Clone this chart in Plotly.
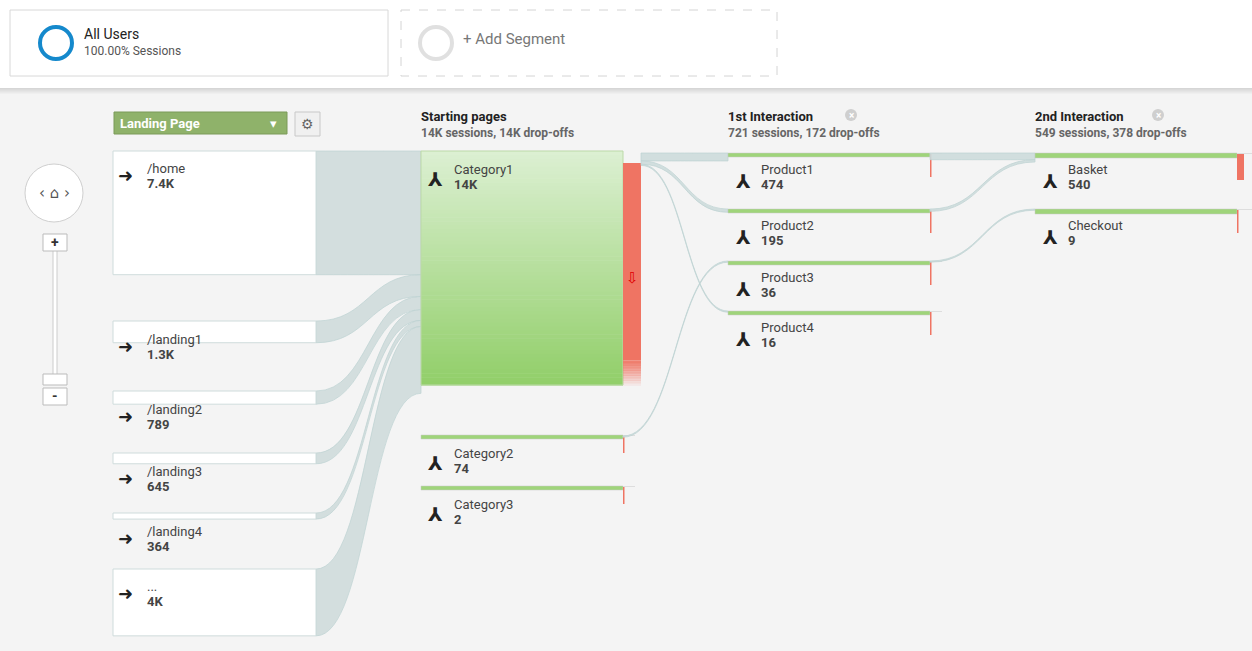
import plotly.graph_objects as go

# ---------------- data ----------------
landing_pages = ["/home", "/landing1", "/landing2", "/landing3", "/landing4", "..."]
landing_sessions = [7400, 1300, 789, 645, 364, 4000]
landing_labels = ["7.4K", "1.3K", "789", "645", "364", "4K"]

start_pages = ["Category1", "Category2", "Category3"]
start_sessions = [14000, 74, 2]
start_labels = ["14K", "74", "2"]
start_dropoffs = [13300, 40, 2]

inter1_pages = ["Product1", "Product2", "Product3", "Product4"]
inter1_sessions = [474, 195, 36, 16]
inter1_dropoffs = [60, 50, 30, 16]

inter2_pages = ["Basket", "Checkout"]
inter2_sessions = [540, 9]
inter2_dropoffs = [370, 8]

links1_src = [0, 0, 1, 0]          # start page index
links1_dst = [0, 1, 2, 3]          # 1st interaction index
links1_val = [474, 195, 36, 16]
links2_src = [0, 1, 2]
links2_dst = [0, 0, 1]
links2_val = [400, 140, 9]

col_titles = ["Starting pages", "1st Interaction", "2nd Interaction"]
col_subs = ["14K sessions, 14K drop-offs", "721 sessions, 172 drop-offs", "549 sessions, 378 drop-offs"]

# ---------------- layout constants ----------------
W, H = 1252, 651
S = 234 / 14000.0  # px per session
FONT = "Roboto"
shapes, ann = [], []

def rect(x0, y0, x1, y1, fill, line="rgba(0,0,0,0)", lw=0, dash=None):
    d = dict(type="rect", x0=x0, y0=y0, x1=x1, y1=y1, xref="x", yref="y",
             fillcolor=fill, line=dict(color=line, width=lw), layer="above")
    if dash:
        d["line"]["dash"] = dash
    shapes.append(d)

def text(x, y, t, size=13, color="#333", bold=False, anchor="left", family=FONT):
    if bold:
        t = "<b>" + t + "</b>"
    if anchor == "left":
        x -= 2
    ann.append(dict(x=x, y=y, xref="x", yref="y", text=t, showarrow=False,
                    xanchor=anchor, yanchor="middle", font=dict(size=size, color=color, family=family)))

def band(x0, a0, b0, x1, a1, b1, color="rgba(200,215,215,0.75)"):
    xm = (x0 + x1) / 2
    p = (f"M {x0},{a0} C {xm},{a0} {xm},{a1} {x1},{a1} L {x1},{b1} "
         f"C {xm},{b1} {xm},{b0} {x0},{b0} Z")
    shapes.append(dict(type="path", path=p, xref="x", yref="y", fillcolor=color,
                       line=dict(color="rgba(190,210,210,0.9)", width=0.8), layer="above"))

# background
rect(0, 88, W, H, "#f4f4f4")
rect(0, 0, W, 88, "#ffffff")
for i in range(6):
    rect(0, 88 + i, W, 89 + i, f"rgba(0,0,0,{0.12 - i*0.02:.2f})")

# segment boxes
shapes.append(dict(type="rect", x0=10, y0=10, x1=388, y1=76, xref="x", yref="y",
                   fillcolor="white", line=dict(color="#d8d8d8", width=1), layer="above"))
shapes.append(dict(type="circle", x0=40, y0=27, x1=72, y1=59, xref="x", yref="y",
                   line=dict(color="#1589cc", width=4), fillcolor="white", layer="above"))
text(84, 34, "All Users", 14, "#222")
text(84, 51, "100.00% Sessions", 12, "#555")
rect(401, 10, 777, 76, "white", "#d4d4d4", 1, "dash")
shapes.append(dict(type="circle", x0=420, y0=27, x1=452, y1=59, xref="x", yref="y",
                   line=dict(color="#e0e0e0", width=4), fillcolor="white", layer="above"))
text(463, 39, "+ Add Segment", 15, "#777")

# zoom control
shapes.append(dict(type="circle", x0=25, y0=164, x1=83, y1=222, xref="x", yref="y",
                   line=dict(color="#cfcfcf", width=1), fillcolor="white", layer="above"))
text(54, 193, "‹ ⌂ ›", 15, "#555", anchor="center", family="DejaVu Sans")
rect(53, 250, 57, 376, "white", "#cccccc", 1)
rect(43, 234, 67, 251, "white", "#bbbbbb", 1)
text(55, 242, "+", 14, "#333", True, "center")
rect(43, 374, 67, 385, "white", "#bbbbbb", 1)
rect(43, 388, 67, 405, "white", "#bbbbbb", 1)
text(55, 396, "-", 14, "#333", True, "center")

# dropdown + gear
rect(114, 112, 287, 134, "#8fb26a", "#7a9a58", 1)
text(120, 123, "Landing Page", 13, "white", True)
text(273, 123, "▾", 13, "white", anchor="center", family="DejaVu Sans")
rect(295, 112, 320, 136, "#f0f0f0", "#c8c8c8", 1)
text(307, 124, "⚙", 14, "#666", anchor="center", family="DejaVu Sans")

# column headers
col_x = [421, 728, 1035]
for i, (t, s) in enumerate(zip(col_titles, col_subs)):
    text(col_x[i], 116, t, 13, "#222", True)
    text(col_x[i], 133, s, 12, "#666", True)
    if i > 0:
        shapes.append(dict(type="circle", x0=col_x[i]+117, y0=109, x1=col_x[i]+129, y1=121,
                           xref="x", yref="y", fillcolor="#cfcfcf", line=dict(width=0), layer="above"))
        text(col_x[i]+123, 115, "×", 10, "white", True, "center")

# ---------------- landing nodes ----------------
land_tops = [151, 321, 391, 453, 513, 569]
LX0, LX1 = 113, 316
cy = 151
for top, v in zip(land_tops, landing_sessions):
    h = v * S
    band(LX1, top, top + h, 421, cy, cy + h)
    cy += h
for top, name, v, lab in zip(land_tops, landing_pages, landing_sessions, landing_labels):
    h = max(v * S, 5)
    rect(LX0, top, LX1, top + h, "white", "#cfdcdc", 1)
    ty = top + 17 if h > 40 else top + 18
    text(118, ty + 7, "➜", 18, "#222", family="DejaVu Sans")
    text(147, ty, name, 13, "#444")
    text(147, ty + 15, lab, 13, "#444", True)

# ---------------- starting pages ----------------
SX0, SX1 = 421, 623
st_tops = [151, 435, 486]
h1 = start_sessions[0] * S
N = 60
for i in range(N):
    f = i / (N - 1)
    r = int(220 + (146 - 220) * f); g = int(240 + (207 - 240) * f); b = int(210 + (106 - 210) * f)
    rect(SX0, 151 + h1 * i / N, SX1, 151 + h1 * (i + 1) / N + 0.5, f"rgb({r},{g},{b})")
shapes.append(dict(type="rect", x0=SX0, y0=151, x1=SX1, y1=151 + h1, xref="x", yref="y",
                   fillcolor="rgba(0,0,0,0)", line=dict(color="#bcd9a8", width=1), layer="above"))
dh = start_dropoffs[0] * S
fade = 25
rect(SX1, 163, SX1 + 18, 163 + dh - fade, "#ef7463")
for i in range(10):
    a = 1 - (i + 1) / 11
    rect(SX1, 163 + dh - fade + i * fade / 10, SX1 + 18, 163 + dh - fade + (i + 1) * fade / 10 + 0.5,
         f"rgba(239,116,99,{a:.2f})")
text(632, 278, "⇩", 15, "#e00000", anchor="center", family="DejaVu Sans")

for k in range(3):
    top = st_tops[k]
    if k > 0:
        rect(SX0, top, SX1, top + 4, "#9fd47a", "#c8c8c8", 0.5)
        rect(SX1, top, SX1 + 1.5, top + 18, "#ef7463")
        rect(SX1, top, SX1 + 12, top + 1, "#dddddd")
        ty = top + 18
    else:
        ty = 169
    text(428, ty + 10, "⅄", 19, "#222", True, family="DejaVu Sans")
    text(454, ty, start_pages[k], 13, "#444")
    text(454, ty + 15, start_labels[k], 13, "#444", True)

# ---------------- 1st interaction ----------------
I1X0, I1X1 = 728, 930
i1_tops = [153, 209, 261, 311]
srcy = {0: 153, 1: 436, 2: 487}
for s_, d_, v in zip(links1_src, links1_dst, links1_val):
    w = max(v * S, 1.2)
    a0 = srcy[s_]; srcy[s_] += w
    band(SX1 + 18 if s_ == 0 else SX1, a0, a0 + w, I1X0, i1_tops[d_], i1_tops[d_] + w,
         "rgba(205,220,220,0.9)")
for k in range(4):
    top = i1_tops[k]
    rect(I1X0, top, I1X1, top + 4, "#9fd47a", "#c8c8c8", 0.5)
    rect(I1X1, top, I1X1 + 1.5, top + 24, "#ef7463")
    rect(I1X1, top, I1X1 + 12, top + 1, "#dddddd")
    text(736, top + 28, "⅄", 19, "#222", True, family="DejaVu Sans")
    text(761, top + 16, inter1_pages[k], 13, "#444")
    text(761, top + 31, str(inter1_sessions[k]), 13, "#444", True)

# ---------------- 2nd interaction ----------------
I2X0, I2X1 = 1035, 1237
i2_tops = [153, 209]
srcy1 = {k: i1_tops[k] for k in range(4)}
dsty = {k: i2_tops[k] for k in range(2)}
for s_, d_, v in zip(links2_src, links2_dst, links2_val):
    w = max(v * S, 1.2)
    a0 = srcy1[s_]; srcy1[s_] += w
    b0 = dsty[d_]; dsty[d_] += w
    band(I1X1, a0, a0 + w, I2X0, b0, b0 + w, "rgba(205,220,220,0.9)")
for k in range(2):
    top = i2_tops[k]
    rect(I2X0, top, I2X1, top + 5, "#9fd47a", "#c8c8c8", 0.5)
    rect(I2X1, top, I2X1 + (7 if k == 0 else 1.5), top + (27 if k == 0 else 24), "#ef7463")
    rect(I2X1, top, W, top + 1, "#dddddd")
    text(1043, top + 28, "⅄", 19, "#222", True, family="DejaVu Sans")
    text(1068, top + 16, inter2_pages[k], 13, "#444")
    text(1068, top + 31, str(inter2_sessions[k]), 13, "#444", True)

fig = go.Figure()
fig.add_trace(go.Scatter(x=[0, W], y=[0, H], mode="markers", marker=dict(opacity=0), hoverinfo="skip"))
fig.update_layout(width=W, height=H, margin=dict(l=0, r=0, t=0, b=0),
                  paper_bgcolor="white", plot_bgcolor="white", showlegend=False,
                  xaxis=dict(range=[0, W], visible=False, fixedrange=True),
                  yaxis=dict(range=[H, 0], visible=False, fixedrange=True),
                  shapes=shapes, annotations=ann, font=dict(family=FONT))
fig.write_html("out.html", config={"displayModeBar": False},
               post_script="document.body.style.margin='0';document.body.style.overflow='hidden';")
